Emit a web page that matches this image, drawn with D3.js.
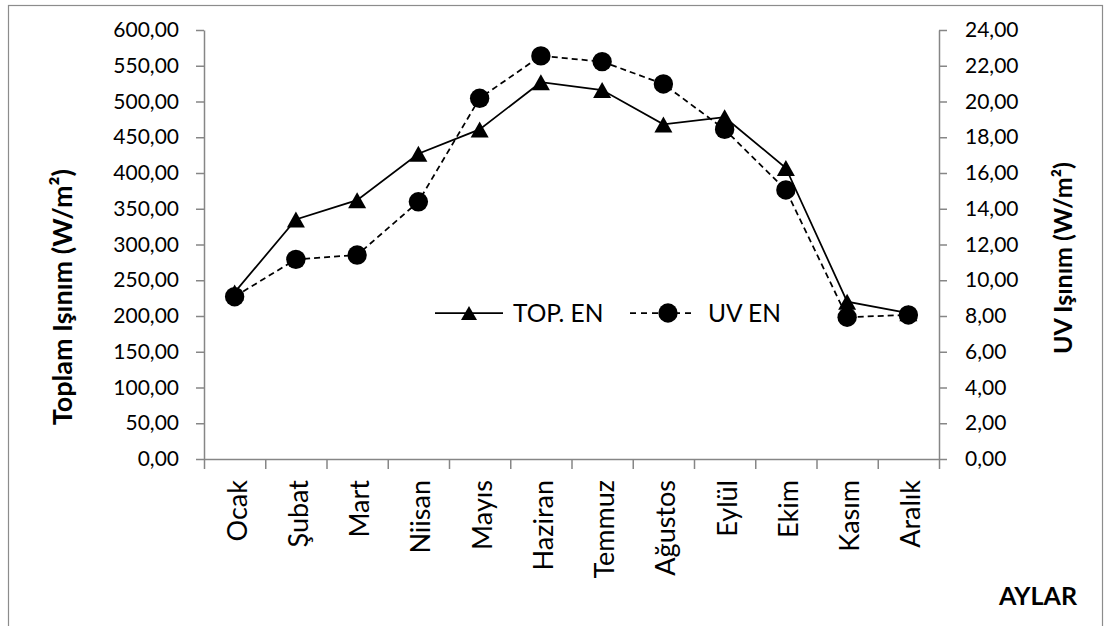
<!DOCTYPE html>
<html>
<head>
<meta charset="utf-8">
<script src="https://cdn.jsdelivr.net/npm/d3@7"></script>
<style>
  html, body { margin: 0; padding: 0; background: #fff; }
  svg { display: block; font-family: Lato, "Open Sans", sans-serif; }
</style>
</head>
<body>
<svg id="chart" width="1105" height="626"></svg>
<script>
// Monthly irradiance: total (left axis) and UV (right axis)
const months = ["Ocak", "Şubat", "Mart", "Niisan", "Mayıs", "Haziran",
                "Temmuz", "Ağustos", "Eylül", "Ekim", "Kasım", "Aralık"];
const topEn = [233, 335, 362, 427, 461, 527, 516, 468, 478, 407, 220, 204];
const uvEn = [9.08, 11.17, 11.41, 14.39, 20.18, 22.55, 22.23, 20.98, 18.44, 15.05, 7.93, 8.06];
const leftTicks = d3.range(0, 601, 50);
const rightTicks = d3.range(0, 25, 2);
const seriesNames = ["TOP. EN", "UV EN"];

const svg = d3.select("#chart");
const plot = { left: 204, right: 939, top: 30, bottom: 459 };
const axisColor = "#868686";
const fmt = v => v.toFixed(2).replace(".", ",");

// outer chart frame
svg.append("rect")
  .attr("x", 8.5).attr("y", 5.5)
  .attr("width", 1094).attr("height", 640)
  .attr("fill", "none").attr("stroke", "#8c8c8c").attr("stroke-width", 1.2);

const x = d3.scaleBand().domain(months).range([plot.left, plot.right]);
const cx = d => x(d) + x.bandwidth() / 2;
const yL = d3.scaleLinear().domain([0, 600]).range([plot.bottom, plot.top]);
const yR = d3.scaleLinear().domain([0, 24]).range([plot.bottom, plot.top]);

function styleAxis(g) {
  g.selectAll(".domain, .tick line").attr("stroke", axisColor).attr("stroke-width", 1.5);
  g.selectAll("text").attr("fill", "#000").style("font-size", "21px").style("font-family", "Lato, sans-serif");
}

// left axis
svg.append("g")
  .attr("transform", `translate(${plot.left},0)`)
  .call(d3.axisLeft(yL).tickValues(leftTicks).tickFormat(fmt).tickSize(8).tickSizeOuter(0).tickPadding(17))
  .call(styleAxis);

// right axis
svg.append("g")
  .attr("transform", `translate(${plot.right},0)`)
  .call(d3.axisRight(yR).tickValues(rightTicks).tickFormat(fmt).tickSize(8).tickSizeOuter(0).tickPadding(18))
  .call(styleAxis);

// category axis: ticks sit between months
const xEdge = d3.scaleLinear().domain([0, months.length]).range([plot.left, plot.right]);
svg.append("g")
  .attr("transform", `translate(0,${plot.bottom})`)
  .call(d3.axisBottom(xEdge).tickValues(d3.range(0, months.length + 1)).tickFormat("").tickSize(10).tickSizeOuter(0))
  .call(styleAxis);

svg.append("g").selectAll("text")
  .data(months).join("text")
  .attr("transform", d => `translate(${cx(d) + 12},${plot.bottom + 21}) rotate(-90)`)
  .attr("text-anchor", "end")
  .style("font-size", "27px")
  .attr("fill", "#000")
  .text(d => d);

// series lines
const lineTop = d3.line().x((d, i) => cx(months[i])).y(d => yL(d));
const lineUv = d3.line().x((d, i) => cx(months[i])).y(d => yR(d));

svg.append("path").datum(topEn)
  .attr("d", lineTop).attr("fill", "none")
  .attr("stroke", "#000").attr("stroke-width", 1.75);
svg.append("path").datum(uvEn)
  .attr("d", lineUv).attr("fill", "none")
  .attr("stroke", "#000").attr("stroke-width", 1.75)
  .attr("stroke-dasharray", "6,4");

// triangle marker centred on its bounding box
const boxTriangle = (w, h) => ({
  draw(ctx) {
    ctx.moveTo(0, -h / 2);
    ctx.lineTo(w / 2, h / 2);
    ctx.lineTo(-w / 2, h / 2);
    ctx.closePath();
  }
});
const tri = d3.symbol().type(boxTriangle(18, 16));

svg.append("g").selectAll("path")
  .data(topEn).join("path")
  .attr("transform", (d, i) => `translate(${cx(months[i])},${yL(d)})`)
  .attr("d", tri).attr("fill", "#000");

svg.append("g").selectAll("circle")
  .data(uvEn).join("circle")
  .attr("cx", (d, i) => cx(months[i]))
  .attr("cy", d => yR(d))
  .attr("r", 9.7).attr("fill", "#000");

// legend
const leg = svg.append("g");
leg.append("line").attr("x1", 435).attr("x2", 503).attr("y1", 313).attr("y2", 313)
  .attr("stroke", "#000").attr("stroke-width", 1.75);
leg.append("path").attr("transform", "translate(469,313)")
  .attr("d", d3.symbol().type(boxTriangle(16, 14))).attr("fill", "#000");
leg.append("text").attr("x", 513).attr("y", 322).style("font-size", "24.5px").text(seriesNames[0]);

leg.append("line").attr("x1", 630).attr("x2", 693).attr("y1", 313).attr("y2", 313)
  .attr("stroke", "#000").attr("stroke-width", 1.75).attr("stroke-dasharray", "6,5");
leg.append("circle").attr("cx", 668).attr("cy", 313).attr("r", 9.7).attr("fill", "#000");
leg.append("text").attr("x", 708).attr("y", 322).style("font-size", "24.5px").text(seriesNames[1]);

// axis titles
svg.append("text")
  .attr("transform", "translate(72,169) rotate(-90)")
  .attr("text-anchor", "end")
  .style("font-size", "27px").style("font-weight", "bold")
  .text("Toplam Işınım  (W/m²)");

svg.append("text")
  .attr("transform", "translate(1072,258) rotate(-90)")
  .attr("text-anchor", "middle")
  .style("font-size", "25px").style("font-weight", "bold")
  .text("UV Işınım  (W/m²)");

svg.append("text")
  .attr("x", 1077).attr("y", 605)
  .attr("text-anchor", "end")
  .style("font-size", "25px").style("font-weight", "bold")
  .text("AYLAR");
</script>
</body>
</html>
